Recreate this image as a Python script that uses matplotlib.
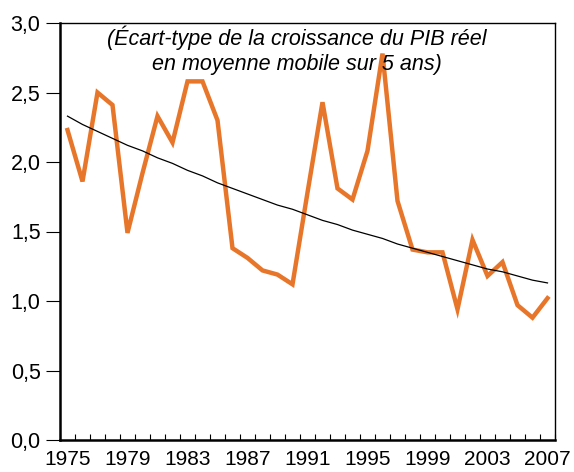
import numpy as np
import matplotlib
matplotlib.use('Agg')
import matplotlib.pyplot as plt
from matplotlib.ticker import FixedLocator, NullFormatter

# Données
annees = list(range(1975, 2008))
ecart_type = [2.23, 1.86, 2.50, 2.41, 1.49, 1.92, 2.33, 2.14, 2.58, 2.58,
              2.30, 1.38, 1.31, 1.22, 1.19, 1.12, 1.78, 2.43, 1.81, 1.73,
              2.08, 2.78, 1.72, 1.37, 1.35, 1.35, 0.94, 1.44, 1.18, 1.28,
              0.97, 0.88, 1.02]
tendance = [2.33, 2.27, 2.22, 2.17, 2.12, 2.08, 2.03, 1.99, 1.94, 1.90,
            1.85, 1.81, 1.77, 1.73, 1.69, 1.66, 1.62, 1.58, 1.55, 1.51,
            1.48, 1.45, 1.41, 1.38, 1.35, 1.32, 1.29, 1.26, 1.23, 1.21,
            1.18, 1.15, 1.13]
yticks = [0.0, 0.5, 1.0, 1.5, 2.0, 2.5, 3.0]

plt.rcParams['font.family'] = ['Liberation Sans', 'DejaVu Sans']

fig = plt.figure(figsize=(5.74, 4.72), dpi=100)
ax = fig.add_axes([60/574, 32/472, 495/574, 417/472])

x = np.arange(len(annees))
ax.plot(x, ecart_type, color='#E8762A', linewidth=3.2, solid_joinstyle='miter')
ax.plot(x, tendance, color='black', linewidth=0.9)

ax.set_xlim(-0.5, len(annees) - 0.5)
ax.set_ylim(0, 3.0)

# graduations x : traits entre les années, étiquettes toutes les 4 années
ax.xaxis.set_major_locator(FixedLocator(np.arange(len(annees) + 1) - 0.5))
ax.xaxis.set_major_formatter(NullFormatter())
ax.xaxis.set_minor_locator(FixedLocator(x[::4]))
ax.set_xticklabels([str(a) for a in annees[::4]], minor=True)
ax.tick_params(axis='x', which='major', direction='in', length=4, width=0.8)
ax.tick_params(axis='x', which='minor', length=0, pad=7, labelsize=15)

ax.set_yticks(yticks)
ax.set_yticklabels([f'{v:.1f}'.replace('.', ',') for v in yticks])
ax.tick_params(axis='y', direction='out', length=10, width=0.8, labelsize=15.5, pad=4)

for side in ['left', 'bottom']:
    ax.spines[side].set_linewidth(1.8)
for side in ['top', 'right']:
    ax.spines[side].set_linewidth(1.0)

ax.text(0.478, 0.995, "(Écart-type de la croissance du PIB réel\nen moyenne mobile sur 5 ans)",
        transform=ax.transAxes, ha='center', va='top', fontsize=15.5,
        style='italic', linespacing=1.25)

plt.savefig('out.png', dpi=100)
plt.close()
